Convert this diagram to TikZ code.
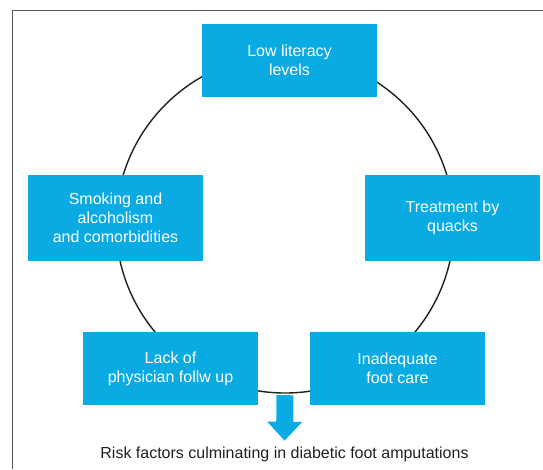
\documentclass[tikz,border=0pt]{standalone}
\usepackage{fontspec}
\setmainfont{Liberation Sans}
\usetikzlibrary{arrows.meta}

\definecolor{boxblue}{RGB}{10,170,226}
\definecolor{inkdark}{RGB}{35,31,32}

\begin{document}
\begin{tikzpicture}[x=1pt, y=-1pt,
    box/.style={rectangle, fill=boxblue, text=white, align=center,
      minimum width=175pt, minimum height=73pt, inner sep=0pt,
      font=\fontsize{16}{19}\selectfont},
    tallbox/.style={box, minimum height=86pt}
    ]
    \useasboundingbox (0,0) rectangle (543,469);
    % open frame
    \draw[line width=1.1pt, black!65] (12.5,469) |- (543,10.5);
    % ring behind the boxes
    \node[circle, draw=inkdark, line width=1.4pt, minimum size=338pt] (ring) at (285,224) {};
    \node[box] (lit) at (289.5,60.5) {Low literacy\\levels};
    \node[tallbox] (quack) at (452.5,217.5) {Treatment by\\quacks};
    \node[box] (care) at (397.5,368.5) {Inadequate\\foot care};
    \node[box] (phys) at (170.5,368.5) {Lack of\\physician follw up};
    \node[tallbox] (smoke) at (115.5,218) {Smoking and\\alcoholism\\and comorbidities};
    \node[anchor=base, inner sep=0pt, text=inkdark, font=\fontsize{16}{19}\selectfont]
      (risk) at (284.5,458) {Risk factors culminating in diabetic foot amputations};
    \draw[boxblue, line width=17pt, -{Triangle[width=34pt, length=19pt]},
      shorten <=1.5pt, shorten >=5.5pt] (ring.south) -- (risk.north);
  \end{tikzpicture}
\end{document}
